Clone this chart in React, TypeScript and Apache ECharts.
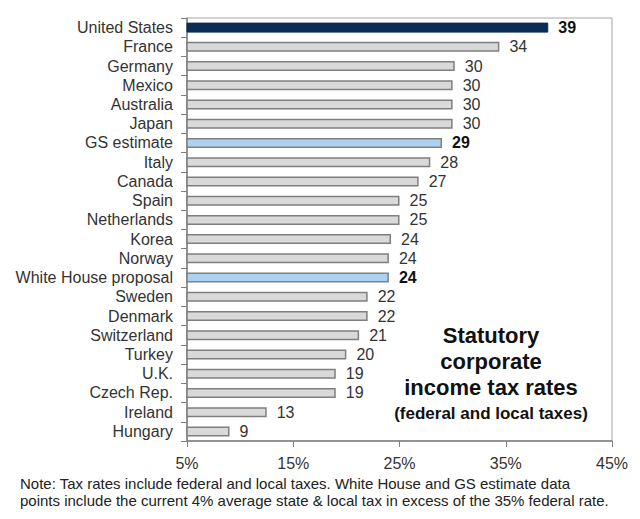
import React, { useEffect, useRef } from "react";
import * as echarts from "echarts";

const categories = [
  "United States", "France", "Germany", "Mexico", "Australia", "Japan",
  "GS estimate", "Italy", "Canada", "Spain", "Netherlands", "Korea", "Norway",
  "White House proposal", "Sweden", "Denmark", "Switzerland", "Turkey", "U.K.",
  "Czech Rep.", "Ireland", "Hungary",
];
const values = [
  39, 34.4, 30.2, 30, 30, 30, 29, 27.9, 26.8, 25, 25, 24.2, 24, 24, 22, 22,
  21.2, 20, 19, 19, 12.5, 9,
];
const xTicks = [5, 15, 25, 35, 45];
const highlight: Record<string, string> = {
  "United States": "dark",
  "GS estimate": "light",
  "White House proposal": "light",
};

export default function App() {
  const ref = useRef<HTMLDivElement>(null);
  useEffect(() => {
    if (!ref.current) return;
    const chart = echarts.init(ref.current, null, { renderer: "svg" });
    const font = "'Liberation Sans', Arial, sans-serif";
    const data = categories.map((c, i) => {
      const h = highlight[c];
      return {
        value: values[i],
        itemStyle:
          h === "dark"
            ? { color: "#0b2c55", borderColor: "#0b2c55", borderWidth: 1 }
            : h === "light"
            ? { color: "#acd2f2", borderColor: "#808080", borderWidth: 1.5 }
            : { color: "#d9d9d9", borderColor: "#7f7f7f", borderWidth: 1.5 },
        label: { fontWeight: h ? "bold" : "normal", color: h ? "#111" : "#333" },
      };
    });
    const title = (text: string, y: number, size: number) => ({
      type: "text",
      x: 491,
      y,
      style: { text, font: `bold ${size}px ${font}`, fill: "#111", textAlign: "center", textVerticalAlign: "middle" },
    });
    chart.setOption({
      animation: false,
      grid: { left: 187, right: 28, top: 18, bottom: 78, containLabel: false, show: true, borderColor: "#a6a6a6", borderWidth: 1 },
      xAxis: {
        type: "value",
        min: xTicks[0],
        max: xTicks[xTicks.length - 1],
        interval: 10,
        axisLine: { show: true, lineStyle: { color: "#7f7f7f", width: 1.5 } },
        axisTick: { show: true, length: 6, lineStyle: { color: "#7f7f7f" } },
        splitLine: { show: false },
        axisLabel: { formatter: "{value}%", color: "#333", fontSize: 16, fontFamily: font, margin: 14 },
      },
      yAxis: {
        type: "category",
        data: categories,
        inverse: true,
        axisLine: { show: true, lineStyle: { color: "#7f7f7f", width: 1.5 } },
        axisTick: { show: true, length: 6, interval: 0, lineStyle: { color: "#7f7f7f" } },
        axisLabel: { color: "#333", fontSize: 16, fontFamily: font, margin: 14, interval: 0 },
      },
      series: [
        {
          type: "bar",
          data,
          barWidth: 10,
          label: {
            show: true,
            position: "right",
            distance: 10,
            fontSize: 16,
            fontFamily: font,
            formatter: (p: any) => String(Math.round(p.value)),
          },
        },
      ],
      graphic: [
        title("Statutory", 335, 22),
        title("corporate", 361, 22),
        title("income tax rates", 387, 22),
        title("(federal and local taxes)", 413, 17),
        { type: "text", x: 20, y: 483, style: { text: "Note: Tax rates include federal and local taxes. White House and GS estimate data", font: `15px ${font}`, fill: "#222", textVerticalAlign: "middle" } },
        { type: "text", x: 20, y: 500, style: { text: "points include the current 4% average state & local tax in excess of the 35% federal rate.", font: `15px ${font}`, fill: "#222", textVerticalAlign: "middle" } },
      ],
    });
    return () => chart.dispose();
  }, []);
  return (
    <div
      ref={ref}
      style={{ position: "fixed", left: 0, top: 0, width: 640, height: 519, background: "#fff" }}
    />
  );
}
